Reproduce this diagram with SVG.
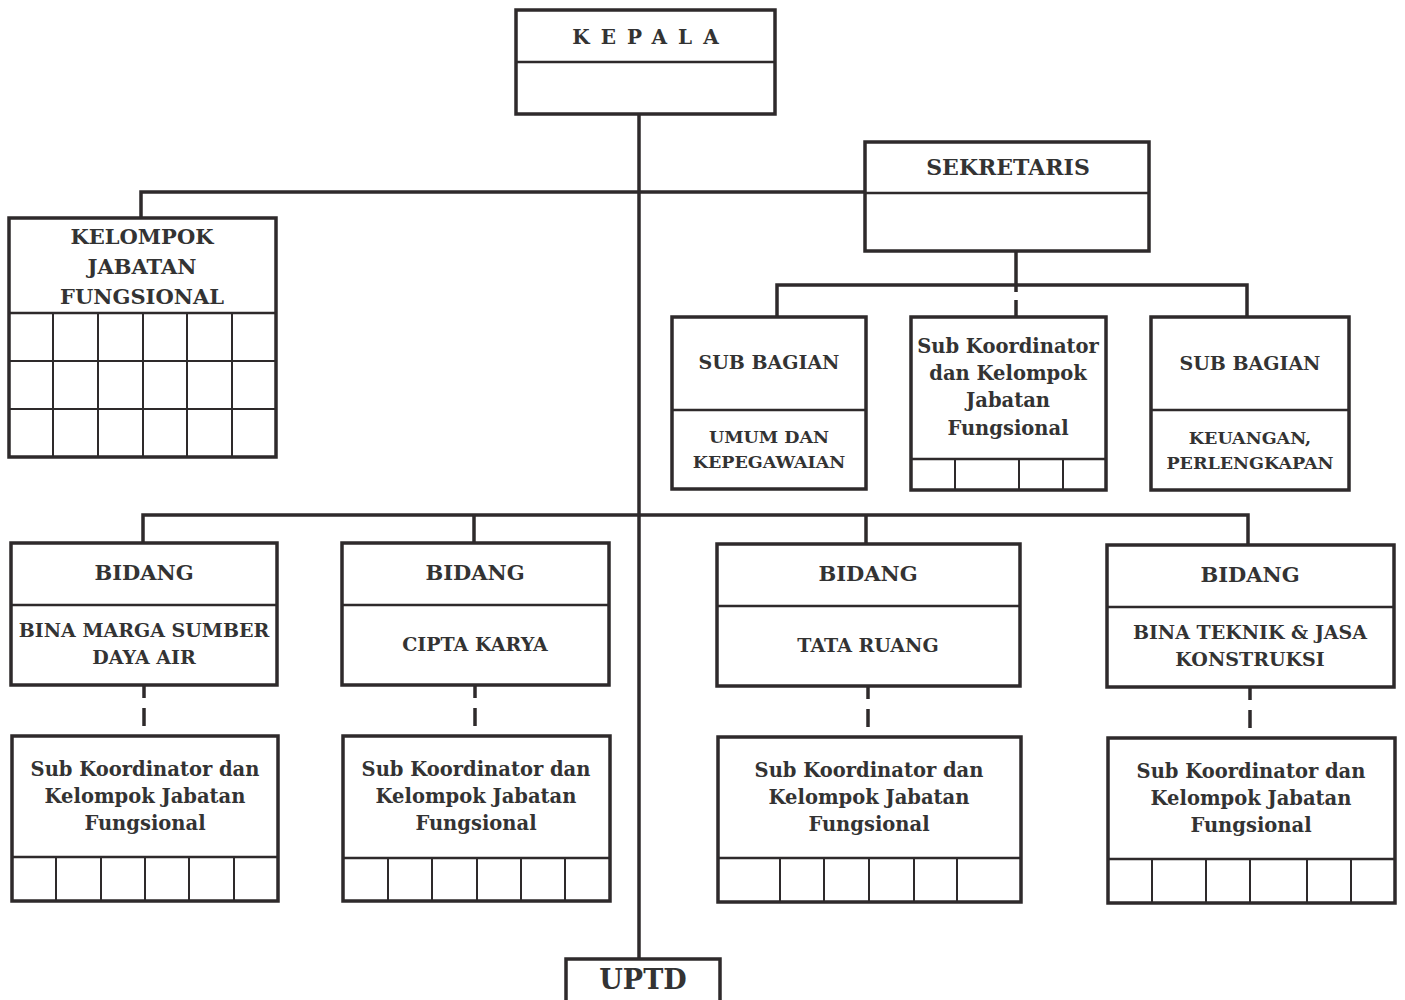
<svg xmlns="http://www.w3.org/2000/svg" width="1405" height="1000" viewBox="0 0 1405 1000">
<style>
.box{fill:#fff;stroke:#2e2a2b;stroke-width:3.5}
.div{stroke:#2e2a2b;stroke-width:2.5;fill:none}
.grid{stroke:#2e2a2b;stroke-width:2;fill:none}
.ln{stroke:#2e2a2b;stroke-width:3.5;fill:none}
text{font-family:"DejaVu Serif","Liberation Serif",serif;font-weight:bold;fill:#333;text-anchor:middle}
.t{font-size:21px}
.s{font-size:19px}
.k{font-size:19.5px}
.u{font-size:17.5px}
</style>
<rect width="1405" height="1000" fill="#fff"/>
<g id="connectors">
<line class="ln" x1="639" y1="114" x2="639" y2="959"/>
<polyline class="ln" points="141,218 141,192 865,192"/>
<line class="ln" x1="1016" y1="251" x2="1016" y2="292"/>
<line class="ln" x1="1016" y1="300" x2="1016" y2="317"/>
<polyline class="ln" points="777,317 777,285 1247,285 1247,317"/>
<polyline class="ln" points="143,543 143,515 1248,515 1248,545"/>
<line class="ln" x1="474" y1="515" x2="474" y2="543"/>
<line class="ln" x1="866" y1="515" x2="866" y2="544"/>
<g id="dashes">
<line class="ln" x1="144" y1="685" x2="144" y2="698"/><line class="ln" x1="144" y1="708" x2="144" y2="726"/>
<line class="ln" x1="475" y1="685" x2="475" y2="698"/><line class="ln" x1="475" y1="708" x2="475" y2="726"/>
<line class="ln" x1="868" y1="686" x2="868" y2="699"/><line class="ln" x1="868" y1="709" x2="868" y2="727"/>
<line class="ln" x1="1250" y1="687" x2="1250" y2="700"/><line class="ln" x1="1250" y1="710" x2="1250" y2="728"/>
</g>
</g>
<g id="kepala">
<rect class="box" x="516" y="10" width="259" height="104"/>
<line class="div" x1="516" y1="62" x2="775" y2="62"/>
<text x="651" y="44" style="font-size:20px;letter-spacing:11px">KEPALA</text>
</g>
<g id="sekretaris">
<rect class="box" x="865" y="142" width="284" height="109"/>
<line class="div" x1="865" y1="193" x2="1149" y2="193"/>
<text x="1008" y="175" style="font-size:22px">SEKRETARIS</text>
</g>
<g id="kelompok">
<rect class="box" x="9" y="218" width="267" height="239"/>
<line class="div" x1="9" y1="313" x2="276" y2="313"/>
<path class="grid" d="M9,361H276M9,409H276M53,313V457M98,313V457M143,313V457M187,313V457M232,313V457"/>
<text class="t" x="142" y="244">KELOMPOK</text>
<text class="t" x="142" y="274">JABATAN</text>
<text class="t" x="142" y="304">FUNGSIONAL</text>
</g>
<g id="subbagian-umum">
<rect class="box" x="672" y="317" width="194" height="172"/>
<line class="div" x1="672" y1="410" x2="866" y2="410"/>
<text class="s" x="769" y="369">SUB BAGIAN</text>
<text class="u" x="769" y="443">UMUM DAN</text>
<text class="u" x="769" y="468">KEPEGAWAIAN</text>
</g>
<g id="subkoord-sekretariat">
<rect class="box" x="911" y="317" width="195" height="173"/>
<line class="div" x1="911" y1="459" x2="1106" y2="459"/>
<path class="grid" d="M955,459V490M1019,459V490M1063,459V490"/>
<text class="k" x="1008" y="353">Sub Koordinator</text>
<text class="k" x="1008" y="380">dan Kelompok</text>
<text class="k" x="1008" y="407">Jabatan</text>
<text class="k" x="1008" y="435">Fungsional</text>
</g>
<g id="subbagian-keuangan">
<rect class="box" x="1151" y="317" width="198" height="173"/>
<line class="div" x1="1151" y1="410" x2="1349" y2="410"/>
<text class="s" x="1250" y="370">SUB BAGIAN</text>
<text class="u" x="1250" y="444">KEUANGAN,</text>
<text class="u" x="1250" y="469">PERLENGKAPAN</text>
</g>
<g id="bidang-1">
<rect class="box" x="11" y="543" width="266" height="142"/>
<line class="div" x1="11" y1="605" x2="277" y2="605"/>
<text class="t" x="144" y="580">BIDANG</text>
<text class="s" x="144" y="637">BINA MARGA SUMBER</text>
<text class="s" x="144" y="664">DAYA AIR</text>
</g>
<g id="bidang-2">
<rect class="box" x="342" y="543" width="267" height="142"/>
<line class="div" x1="342" y1="605" x2="609" y2="605"/>
<text class="t" x="475" y="580">BIDANG</text>
<text class="s" x="475" y="651">CIPTA KARYA</text>
</g>
<g id="bidang-3">
<rect class="box" x="717" y="544" width="303" height="142"/>
<line class="div" x1="717" y1="606" x2="1020" y2="606"/>
<text class="t" x="868" y="581">BIDANG</text>
<text class="s" x="868" y="652">TATA RUANG</text>
</g>
<g id="bidang-4">
<rect class="box" x="1107" y="545" width="287" height="142"/>
<line class="div" x1="1107" y1="607" x2="1394" y2="607"/>
<text class="t" x="1250" y="582">BIDANG</text>
<text class="s" x="1250" y="639">BINA TEKNIK &amp; JASA</text>
<text class="s" x="1250" y="666">KONSTRUKSI</text>
</g>
<g id="subkoord-1">
<rect class="box" x="12" y="736" width="266" height="165"/>
<line class="div" x1="12" y1="857" x2="278" y2="857"/>
<path class="grid" d="M56,857V901M101,857V901M145,857V901M189,857V901M234,857V901"/>
<text class="k" x="145" y="776">Sub Koordinator dan</text>
<text class="k" x="145" y="803">Kelompok Jabatan</text>
<text class="k" x="145" y="830">Fungsional</text>
</g>
<g id="subkoord-2">
<rect class="box" x="343" y="736" width="267" height="165"/>
<line class="div" x1="343" y1="858" x2="610" y2="858"/>
<path class="grid" d="M388,858V901M432,858V901M477,858V901M521,858V901M565,858V901"/>
<text class="k" x="476" y="776">Sub Koordinator dan</text>
<text class="k" x="476" y="803">Kelompok Jabatan</text>
<text class="k" x="476" y="830">Fungsional</text>
</g>
<g id="subkoord-3">
<rect class="box" x="718" y="737" width="303" height="165"/>
<line class="div" x1="718" y1="858" x2="1021" y2="858"/>
<path class="grid" d="M780,858V902M824,858V902M869,858V902M914,858V902M957,858V902"/>
<text class="k" x="869" y="777">Sub Koordinator dan</text>
<text class="k" x="869" y="804">Kelompok Jabatan</text>
<text class="k" x="869" y="831">Fungsional</text>
</g>
<g id="subkoord-4">
<rect class="box" x="1108" y="738" width="287" height="165"/>
<line class="div" x1="1108" y1="859" x2="1395" y2="859"/>
<path class="grid" d="M1152,859V903M1206,859V903M1250,859V903M1307,859V903M1351,859V903"/>
<text class="k" x="1251" y="778">Sub Koordinator dan</text>
<text class="k" x="1251" y="805">Kelompok Jabatan</text>
<text class="k" x="1251" y="832">Fungsional</text>
</g>
<g id="uptd">
<rect class="box" x="566" y="959" width="154" height="45"/>
<text x="643" y="989" style="font-size:27px">UPTD</text>
</g>
</svg>
